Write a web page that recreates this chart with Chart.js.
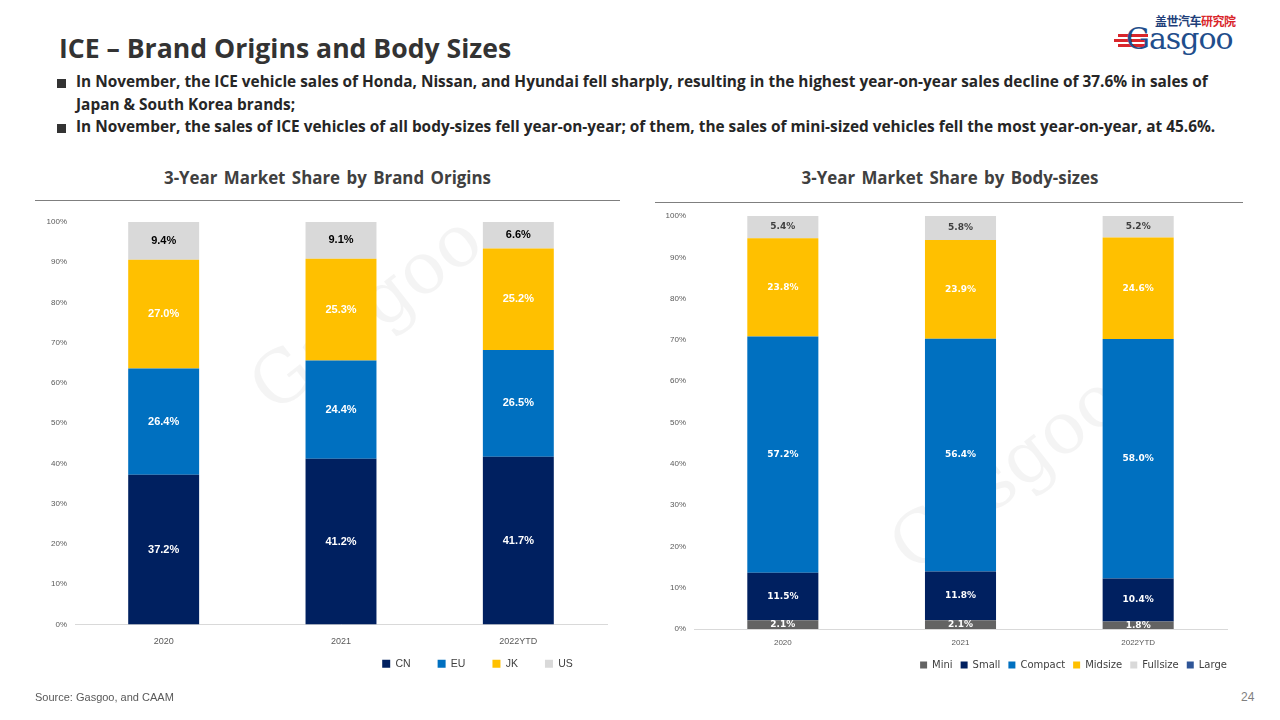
<!DOCTYPE html>
<html>
<head>
<meta charset="utf-8">
<script src="https://cdn.jsdelivr.net/npm/chart.js@4.4.1/dist/chart.umd.min.js"></script>
<style>
    body { margin: 0; width: 1280px; height: 720px; background: #fff; position: relative; overflow: hidden; font-family: "Open Sans", sans-serif; }
    .abs { position: absolute; }
    #titulo { left: 59px; top: 30px; font-size: 26.6px; font-weight: 700; color: #333; white-space: nowrap; }
    .punto { left: 76px; font-size: 15.4px; font-weight: 700; color: #262626; white-space: nowrap; line-height: 22.5px; }
    .cuadro { left: 57px; width: 9px; height: 9px; background: #333; }
    .subtitulo { top: 166px; font-size: 16.9px; font-weight: 700; color: #404040; text-align: center; white-space: nowrap; word-spacing: 2px; }
    .linea { height: 1px; background: #7f7f7f; }
    #fuente { left: 35px; top: 691px; font-size: 11px; color: #595959; font-family: "Liberation Sans", sans-serif; }
    #pagina { left: 1241px; top: 690px; font-size: 12px; color: #7f7f7f; font-family: "Liberation Sans", sans-serif; }
    .marca { color: rgba(0,0,0,0.045); font-family: "DejaVu Serif", serif; font-size: 72px; transform: rotate(-38deg); white-space: nowrap; }
</style>
</head>
<body>

<div id="titulo" class="abs">ICE – Brand Origins and Body Sizes</div>

<div class="abs cuadro" style="top:79px"></div>
<div class="abs punto" style="top:71px">In November, the ICE vehicle sales of Honda, Nissan, and Hyundai fell sharply, resulting in the highest year-on-year sales decline of 37.6% in sales of<br>Japan &amp; South Korea brands;</div>
<div class="abs cuadro" style="top:124px"></div>
<div class="abs punto" style="top:116px">In November, the sales of ICE vehicles of all body-sizes fell year-on-year; of them, the sales of mini-sized vehicles fell the most year-on-year, at 45.6%.</div>

<!-- logo -->
<div class="abs" style="left:1155px; top:12px; font-family:'Noto Sans CJK SC',sans-serif; font-size:12px; font-weight:700; letter-spacing:-0.5px;"><span style="color:#1f3f7a">盖世汽车</span><span style="color:#d9262b">研究院</span></div>
<div class="abs" style="left:1118px; top:34px; width:30px; height:3px; background:#d9262b;"></div>
<div class="abs" style="left:1114px; top:39px; width:32px; height:3px; background:#d9262b;"></div>
<div class="abs" style="left:1118px; top:44px; width:28px; height:3px; background:#d9262b;"></div>
<div class="abs" style="left:1126px; top:21px; font-family:'DejaVu Serif',serif; font-size:30px; color:#1f4e8c; letter-spacing:-1px;">Gasgoo</div>

<div class="abs subtitulo" style="left:35px; width:585px;">3-Year Market Share by Brand Origins</div>
<div class="abs linea" style="left:35px; top:200px; width:585px;"></div>
<div class="abs subtitulo" style="left:655px; width:590px;">3-Year Market Share by Body-sizes</div>
<div class="abs linea" style="left:655px; top:202px; width:588px;"></div>

<!-- marcas de agua -->
<div class="abs marca" style="left:230px; top:270px;">Gasgoo</div>
<div class="abs marca" style="left:870px; top:430px;">Gasgoo</div>

<div class="abs" style="left:20px; top:205px; width:600px; height:495px;"><canvas id="graficaOrigen"></canvas></div>
<div class="abs" style="left:640px; top:199px; width:600px; height:486px;"><canvas id="graficaTamano"></canvas></div>

<div id="fuente" class="abs">Source: Gasgoo, and CAAM</div>
<div id="pagina" class="abs">24</div>

<script>
// Categorías
const anios = ["2020", "2021", "2022YTD"];

// Participación por origen de marca (%)
const origenes = ["CN", "EU", "JK", "US"];
const cn = [37.2, 41.2, 41.7];
const eu = [26.4, 24.4, 26.5];
const jk = [27.0, 25.3, 25.2];
const us = [9.4, 9.1, 6.6];

// Participación por tamaño (%)
const tamanos = ["Mini", "Small", "Compact", "Midsize", "Fullsize", "Large"];
const mini = [2.1, 2.1, 1.8];
const small = [11.5, 11.8, 10.4];
const compact = [57.2, 56.4, 58.0];
const midsize = [23.8, 23.9, 24.6];
const fullsize = [5.4, 5.8, 5.2];
const large = [0, 0, 0];

// Etiquetas dentro de cada segmento
const etiquetasPlugin = {
    id: "etiquetas",
    afterDatasetsDraw: function (chart, args, opts) {
        const ctx = chart.ctx;
        ctx.save();
        ctx.font = opts.font;
        ctx.textAlign = "center";
        ctx.textBaseline = "middle";
        chart.data.datasets.forEach(function (ds, i) {
            const meta = chart.getDatasetMeta(i);
            meta.data.forEach(function (bar, j) {
                const v = ds.data[j];
                if (!v) return;
                ctx.fillStyle = ds.labelColor;
                ctx.fillText(v.toFixed(1) + "%", bar.x, (bar.y + bar.base) / 2);
            });
        });
        ctx.restore();
    }
};

// Mover la leyenda (dx, dy)
const leyendaPlugin = {
    id: "moverLeyenda",
    afterLayout: function (chart, args, opts) {
        const l = chart.legend;
        l.left += opts.dx; l.right += opts.dx;
        l.top += opts.dy; l.bottom += opts.dy;
    }
};

function opciones(conf) {
    return {
        responsive: true,
        maintainAspectRatio: false,
        animation: false,
        layout: { padding: { top: 17, right: 13, left: 0, bottom: 0 } },
        scales: {
            x: {
                stacked: true,
                grid: { display: false, drawTicks: false },
                border: { display: true, color: "#d9d9d9" },
                ticks: { color: "#595959", font: { family: "Liberation Sans", size: conf.xSize }, padding: conf.xPad },
                afterFit: function (s) { s.height = 28; }
            },
            y: {
                stacked: true,
                min: 0, max: 100,
                grid: { display: false, drawTicks: false },
                border: { display: false },
                ticks: { stepSize: 10, color: "#595959", font: { family: "Liberation Sans", size: 8 }, padding: 8,
                    callback: function (v) { return v + "%"; } },
                afterFit: function (s) { s.width = conf.yAncho; }
            }
        },
        plugins: {
            tooltip: { enabled: false },
            legend: {
                position: "bottom",
                labels: { boxWidth: conf.caja, boxHeight: conf.caja, padding: conf.legPad, color: "#404040",
                    font: { family: conf.legFam, size: conf.legSize } }
            },
            moverLeyenda: { dx: conf.dx, dy: conf.dy },
            etiquetas: { font: conf.etqFont }
        }
    };
}

function serie(label, data, color, labelColor) {
    return { label: label, data: data, backgroundColor: color, labelColor: labelColor,
        borderWidth: 0, categoryPercentage: 1, barPercentage: 0.4 };
}

document.addEventListener("DOMContentLoaded", function () {
    new Chart(document.getElementById("graficaOrigen").getContext("2d"), {
        type: "bar",
        data: {
            labels: anios,
            datasets: [
                serie(origenes[0], cn, "#002060", "#ffffff"),
                serie(origenes[1], eu, "#0070c0", "#ffffff"),
                serie(origenes[2], jk, "#ffc000", "#ffffff"),
                serie(origenes[3], us, "#d9d9d9", "#000000")
            ]
        },
        options: opciones({ xSize: 9, xPad: 12, yAncho: 55, caja: 8, legPad: 27, legFam: "Liberation Sans",
            legSize: 10.5, dx: 164, dy: -21, etqFont: "bold 11px 'Liberation Sans'" }),
        plugins: [etiquetasPlugin, leyendaPlugin]
    });

    new Chart(document.getElementById("graficaTamano").getContext("2d"), {
        type: "bar",
        data: {
            labels: anios,
            datasets: [
                serie(tamanos[0], mini, "#636363", "#ffffff"),
                serie(tamanos[1], small, "#002060", "#ffffff"),
                serie(tamanos[2], compact, "#0070c0", "#ffffff"),
                serie(tamanos[3], midsize, "#ffc000", "#ffffff"),
                serie(tamanos[4], fullsize, "#d9d9d9", "#404040"),
                serie(tamanos[5], large, "#2f5597", "#ffffff")
            ]
        },
        options: opciones({ xSize: 8, xPad: 9, yAncho: 54, caja: 7, legPad: 8, legFam: "DejaVu Sans",
            legSize: 10, dx: 140, dy: -5, etqFont: "bold 9px 'DejaVu Sans'" }),
        plugins: [etiquetasPlugin, leyendaPlugin]
    });
});
</script>
</body>
</html>
